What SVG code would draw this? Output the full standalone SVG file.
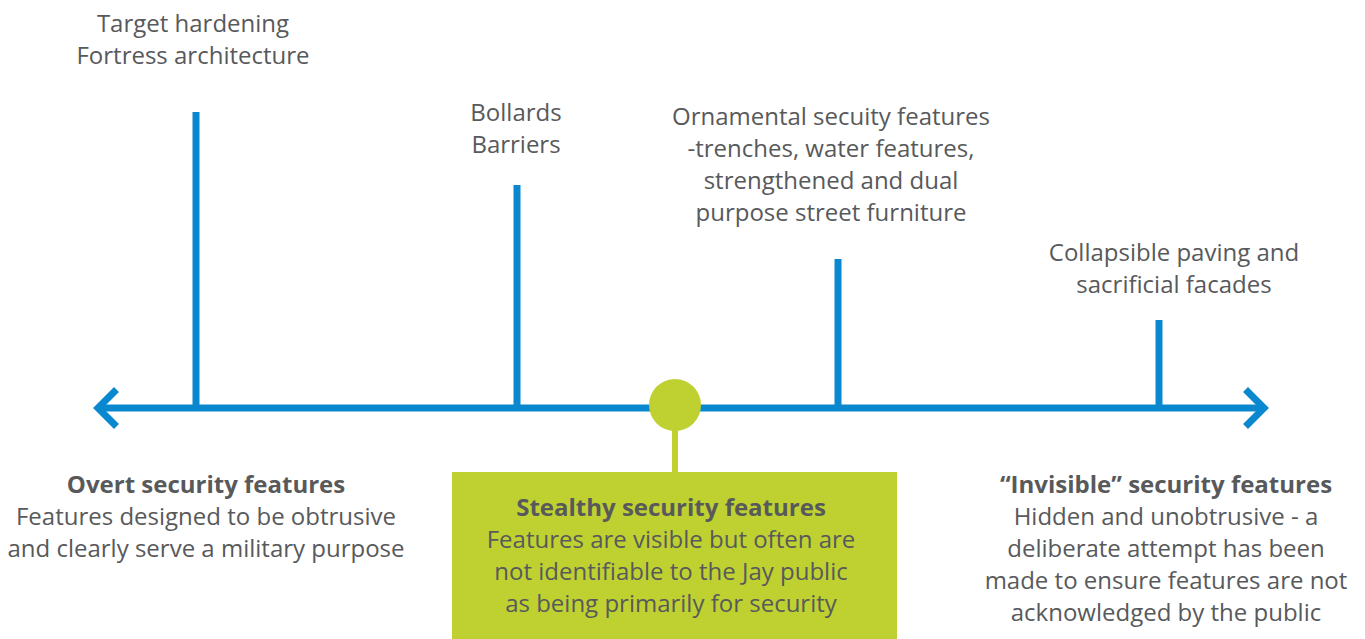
<svg xmlns="http://www.w3.org/2000/svg" width="1365" height="639" viewBox="0 0 1365 639">
<style>
text{font-family:"Open Sans","Noto Sans",sans-serif;font-size:24px;fill:#58595b;text-anchor:middle}
.b{font-weight:bold}
.ax{stroke:#0a88cf;stroke-width:7;fill:none}
.g{fill:#bfd131}
</style>
<rect width="1365" height="639" fill="#fff"/>
<g id="connectors">
<line class="ax" x1="98" y1="408" x2="1264" y2="408"/>
<polyline class="ax" points="114,392 98,408 114,424" stroke-linecap="square"/>
<polyline class="ax" points="1248,392 1264,408 1248,424" stroke-linecap="square"/>
<line class="ax" x1="196" y1="112" x2="196" y2="408"/>
<line class="ax" x1="517" y1="185" x2="517" y2="408"/>
<line class="ax" x1="838" y1="259" x2="838" y2="408"/>
<line class="ax" x1="1159" y1="320" x2="1159" y2="408"/>
<line x1="675" y1="420" x2="675" y2="474" stroke="#bfd131" stroke-width="6"/>
</g>
<g id="marker-center"><circle class="g" cx="675" cy="405" r="26"/></g>
<g id="label-target"><text x="193" y="32">Target hardening</text><text x="193" y="64">Fortress architecture</text></g>
<g id="label-bollards"><text x="516" y="121">Bollards</text><text x="516" y="153">Barriers</text></g>
<g id="label-ornamental"><text x="831" y="125">Ornamental secuity features</text><text x="831" y="157">-trenches, water features,</text><text x="831" y="189">strengthened and dual</text><text x="831" y="221">purpose street furniture</text></g>
<g id="label-collapsible"><text x="1174" y="261">Collapsible paving and</text><text x="1174" y="293">sacrificial facades</text></g>
<g id="node-overt"><text class="b" x="206" y="493">Overt security features</text><text x="206" y="525">Features designed to be obtrusive</text><text x="206" y="557">and clearly serve a military purpose</text></g>
<g id="node-stealthy"><rect class="g" x="452" y="472" width="445" height="167"/><text class="b" x="671" y="516">Stealthy security features</text><text x="671" y="548">Features are visible but often are</text><text x="671" y="580">not identifiable to the Jay public</text><text x="671" y="612">as being primarily for security</text></g>
<g id="node-invisible"><text class="b" x="1166" y="493">“Invisible” security features</text><text x="1166" y="525">Hidden and unobtrusive - a</text><text x="1166" y="557">deliberate attempt has been</text><text x="1166" y="589">made to ensure features are not</text><text x="1166" y="621">acknowledged by the public</text></g>
</svg>
